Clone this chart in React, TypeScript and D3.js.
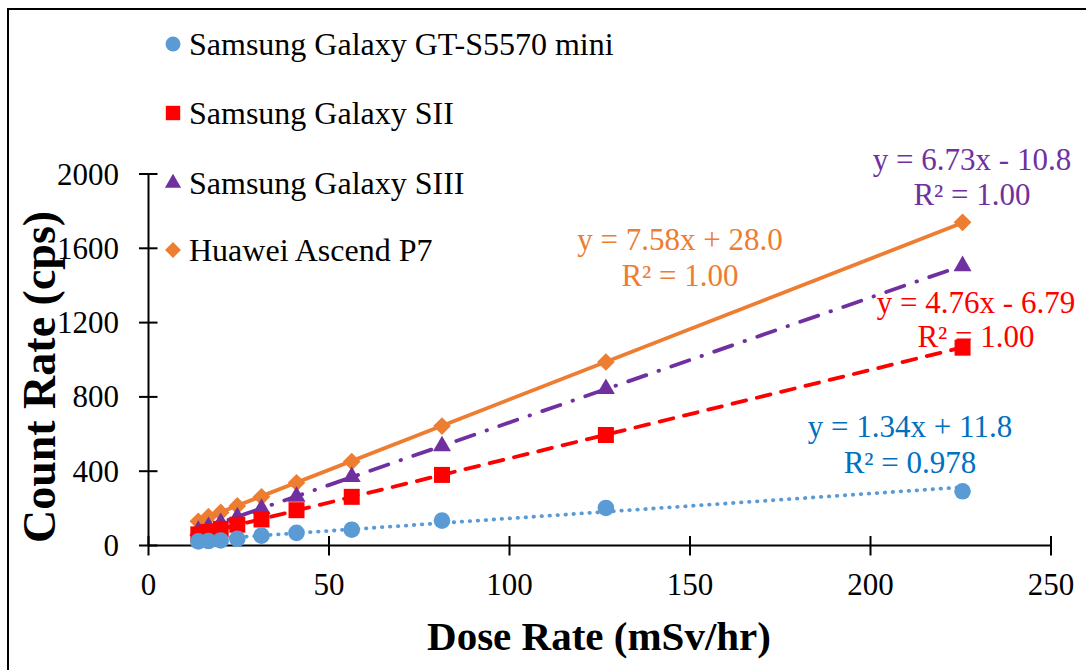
import React from 'react';
import * as d3 from 'd3';

// Dose rate (mSv/hr) at each measurement point
const doseRates = [13.8, 16.6, 20.0, 24.6, 31.3, 41.0, 56.3, 81.3, 126.7, 225.5];

// Count rate (cps) per phone
const gtS5570Counts = [22, 24, 27, 36, 53, 68, 85, 134, 202, 292];
const galaxySIICounts = [60, 73, 90, 112, 140, 190, 262, 380, 595, 1065];
const galaxySIIICounts = [80, 100, 122, 152, 198, 263, 370, 535, 843, 1505];
const ascendP7Counts = [130, 155, 178, 213, 262, 338, 452, 643, 988, 1740];

const seriesNames = [
  'Samsung Galaxy GT-S5570 mini',
  'Samsung Galaxy SII',
  'Samsung Galaxy SIII',
  'Huawei Ascend P7',
];

// Linear trendline coefficients and fit quality
const fitSlopes = [1.34, 4.76, 6.73, 7.58];
const fitIntercepts = [11.8, -6.79, -10.8, 28.0];
const fitR2 = ['0.978', '1.00', '1.00', '1.00'];

const xTicks = [0, 50, 100, 150, 200, 250];
const yTicks = [0, 400, 800, 1200, 1600, 2000];

const W = 1086;
const H = 670;
const FONT = "'Liberation Serif', 'Times New Roman', serif";

type Style = {
  color: string;
  labelColor: string;
  symbol: 'circle' | 'square' | 'triangle' | 'diamond';
  dash: string | null;
  label: { x: number; y1: number; y2: number };
};

const styles: Style[] = [
  { color: '#5B9BD5', labelColor: '#0070C0', symbol: 'circle', dash: '0.5 7.5', label: { x: 910, y1: 437, y2: 473 } },
  { color: '#FF0000', labelColor: '#FF0000', symbol: 'square', dash: '14 11', label: { x: 976, y1: 313, y2: 347 } },
  { color: '#7030A0', labelColor: '#7030A0', symbol: 'triangle', dash: '19 13 0.5 13', label: { x: 972, y1: 170, y2: 205 } },
  { color: '#ED7D31', labelColor: '#ED7D31', symbol: 'diamond', dash: null, label: { x: 680, y1: 250, y2: 286 } },
];

function symbolPath(kind: Style['symbol']): { d: string; rotate: number } {
  switch (kind) {
    case 'circle':
      return { d: d3.symbol(d3.symbolCircle, Math.PI * 8.3 * 8.3)()!, rotate: 0 };
    case 'square':
      return { d: d3.symbol(d3.symbolSquare, 16 * 16)()!, rotate: 0 };
    case 'triangle':
      return { d: d3.symbol(d3.symbolTriangle, (Math.sqrt(3) / 4) * 18 * 18)()!, rotate: 0 };
    case 'diamond':
    default:
      return { d: d3.symbol(d3.symbolSquare, 12.5 * 12.5)()!, rotate: 45 };
  }
}

export default function App() {
  const x = d3.scaleLinear().domain([0, 250]).range([148.5, 1051]);
  const y = d3.scaleLinear().domain([0, 2000]).range([545.5, 174]);

  const seriesValues = [gtS5570Counts, galaxySIICounts, galaxySIIICounts, ascendP7Counts];
  const fmt = d3.format('.3r');
  const xMin = d3.min(doseRates)!;
  const xMax = d3.max(doseRates)!;

  const line = d3
    .line<[number, number]>()
    .x((d) => x(d[0]))
    .y((d) => y(d[1]));

  const order = [3, 2, 1, 0];

  const legendRows = [44, 113, 183, 250];

  return (
    <svg
      width={W}
      height={H}
      style={{ position: 'absolute', left: 0, top: 0, background: '#fff', overflow: 'hidden' }}
      fontFamily={FONT}
    >
      <rect x={0} y={0} width={W} height={H} fill="#fff" />
      {/* chart frame */}
      <path d={`M8,${H} V9 H${W}`} fill="none" stroke="#000" strokeWidth={2} />

      {/* axes */}
      <g stroke="#000" strokeWidth={2}>
        <line x1={x(0)} x2={x(250)} y1={y(0)} y2={y(0)} />
        <line x1={x(0)} x2={x(0)} y1={y(0)} y2={y(2000)} />
        {xTicks.map((t) => (
          <line key={'xt' + t} x1={x(t)} x2={x(t)} y1={y(0) - 9.5} y2={y(0) + 10} />
        ))}
        {yTicks.map((t) => (
          <line key={'yt' + t} x1={x(0) - 9.5} x2={x(0) + 9} y1={y(t)} y2={y(t)} />
        ))}
      </g>
      <g fontSize={31} fill="#000">
        {xTicks.map((t) => (
          <text key={'xl' + t} x={x(t)} y={595} textAnchor="middle">
            {t}
          </text>
        ))}
        {yTicks.map((t) => (
          <text key={'yl' + t} x={119} y={y(t) + 10.5} textAnchor="end">
            {t}
          </text>
        ))}
      </g>

      {/* axis titles */}
      <text x={599} y={650} textAnchor="middle" fontSize={41} fontWeight="bold" fill="#000">
        Dose Rate (mSv/hr)
      </text>
      <text
        transform="translate(55,377) rotate(-90)"
        textAnchor="middle"
        fontSize={46}
        fontWeight="bold"
        fill="#000"
      >
        Count Rate (cps)
      </text>

      {/* trendlines */}
      {order.map((i) => {
        const s = styles[i];
        const pts: [number, number][] = [
          [xMin, fitSlopes[i] * xMin + fitIntercepts[i]],
          [xMax, fitSlopes[i] * xMax + fitIntercepts[i]],
        ];
        return (
          <path
            key={'fit' + i}
            d={line(pts)!}
            fill="none"
            stroke={s.color}
            strokeWidth={3.8}
            strokeDasharray={s.dash ?? undefined}
            strokeLinecap={s.dash ? 'round' : 'butt'}
          />
        );
      })}

      {/* markers */}
      {order.map((i) => {
        const s = styles[i];
        const sym = symbolPath(s.symbol);
        return (
          <g key={'m' + i} fill={s.color}>
            {seriesValues[i].map((v, k) => (
              <path
                key={k}
                d={sym.d}
                transform={`translate(${x(doseRates[k])},${y(v)}) rotate(${sym.rotate})`}
              />
            ))}
          </g>
        );
      })}

      {/* trendline equations */}
      {styles.map((s, i) => {
        const b = fitIntercepts[i];
        const eq = `y = ${fmt(fitSlopes[i])}x ${b < 0 ? '-' : '+'} ${fmt(Math.abs(b))}`;
        return (
          <g key={'eq' + i} fill={s.labelColor} fontSize={31} textAnchor="middle">
            <text x={s.label.x} y={s.label.y1}>{eq}</text>
            <text x={s.label.x} y={s.label.y2}>{`R² = ${fitR2[i]}`}</text>
          </g>
        );
      })}

      {/* legend */}
      {styles.map((s, i) => {
        const sym = symbolPath(s.symbol);
        return (
          <g key={'lg' + i}>
            <path
              d={sym.d}
              fill={s.color}
              transform={`translate(173,${legendRows[i]}) scale(0.9) rotate(${sym.rotate})`}
            />
            <text x={189} y={legendRows[i] + 11} fontSize={32} fill="#000">
              {seriesNames[i]}
            </text>
          </g>
        );
      })}
    </svg>
  );
}
